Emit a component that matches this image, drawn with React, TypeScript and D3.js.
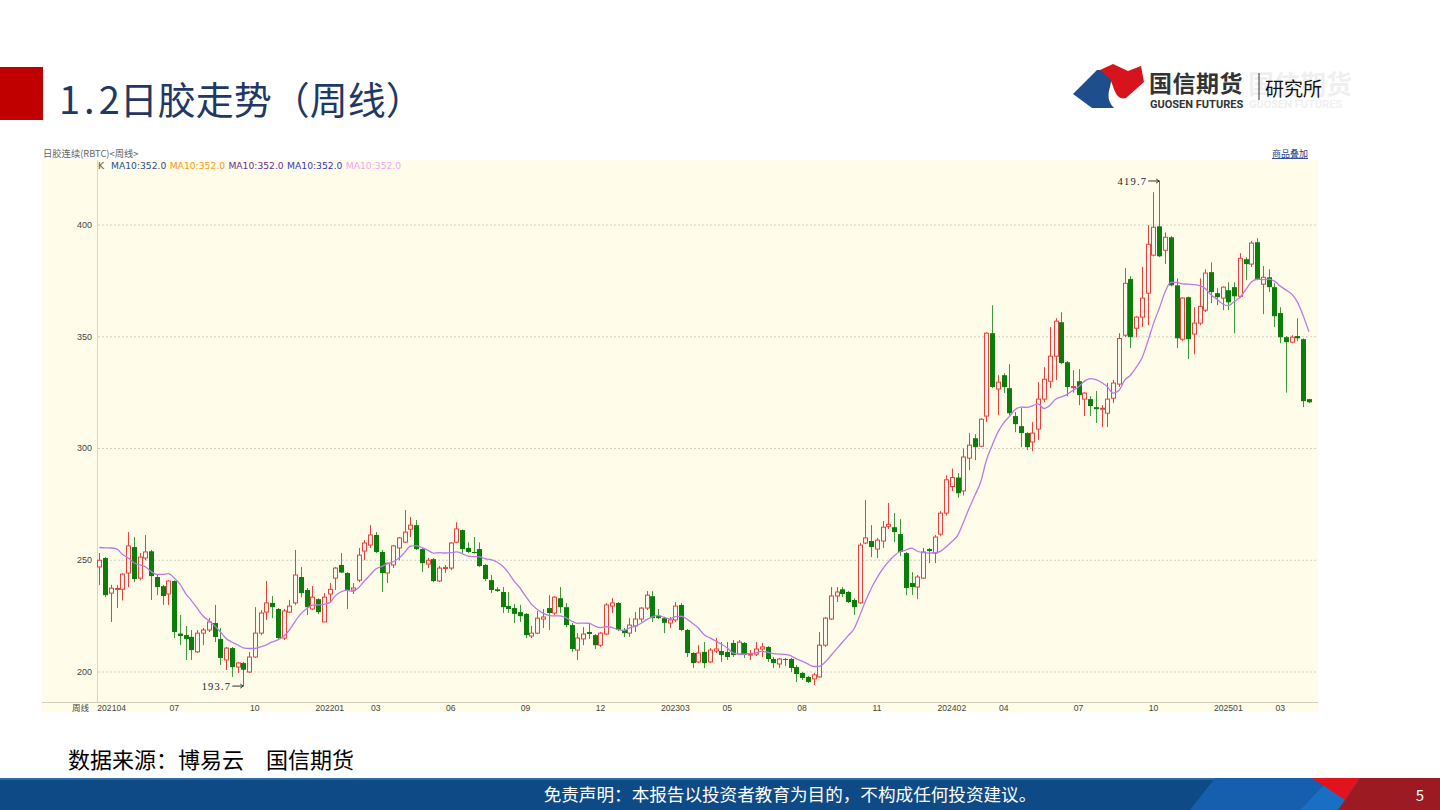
import * as d3 from 'd3';
import React from 'react';

// weekly OHLC, first bar = week of 2021-04-02
const opens = [
  247, 251, 235.3, 237, 237, 244.3, 255.9, 242, 251, 254,
  242.5, 238.4, 234.9, 240.7, 217.2, 216.5, 215.7, 209, 217.4, 218.8,
  221.9, 214.8, 205.4, 210.7, 202.2, 204, 200, 206.7, 217.4, 226.8,
  230.9, 228.2, 215.2, 226.8, 230.9, 242.5, 236.7, 228.2, 232.6, 222.4,
  234.9, 242, 247.9, 244.3, 236.7, 241.1, 254.1, 256.8, 261.3, 253.7,
  244.3, 247.9, 255.5, 258.1, 263.9, 265.7, 255, 248.3, 250.5, 240.7,
  246.3, 246.5, 258.1, 263.5, 255.5, 253.7, 255, 247.9, 241.1, 237,
  235.8, 229.5, 228.6, 226.8, 226, 216.1, 217.4, 223.7, 228.6, 226.4,
  233, 229, 221, 209.8, 214.8, 217.9, 216.5, 212, 217, 229.5,
  230.9, 218.8, 217.4, 220.6, 223.7, 228.6, 233.9, 225, 224.1, 221.9,
  223.3, 230, 218.8, 208.5, 204.5, 209, 204.5, 209.4, 209.4, 209,
  213, 208, 213, 207.6, 208, 210.3, 211.2, 205.8, 203.6, 205.8,
  205.8, 202.2, 199.6, 197.8, 196.9, 197.8, 212, 223.7, 234, 237,
  235.8, 232.2, 230.9, 257.7, 258.6, 255, 258.6, 265.2, 264.8, 261.7,
  253.2, 239.8, 238, 242, 255, 253.2, 261.7, 271.1, 283, 287,
  281, 295.7, 304.6, 301, 314.5, 351.6, 326.6, 332.8, 327, 314.5,
  310, 306.9, 302.9, 308.7, 322.1, 330.1, 341.3, 356.5, 338.6, 327.3,
  330.1, 322.1, 322.1, 318.5, 317.6, 315.8, 322.5, 328.8, 350.7, 375.8,
  353.8, 358.8, 369.5, 386.5, 399.4, 388.7, 394.5, 373, 348.9, 367.7,
  351.2, 356.1, 361.9, 378.9, 369.5, 367.3, 370.8, 372.2, 368.1, 384.7,
  382.5, 392.3, 373.5, 376.6, 372.2, 360.6, 349.8, 347.6, 350.3, 348.9,
  322.1,
];
const highs = [
  253.2, 251.5, 239, 239, 244.3, 262.6, 260.4, 253.2, 261.3, 254.6,
  243.4, 239, 241.1, 241.1, 225.5, 220.6, 218.8, 218.8, 219.7, 224.1,
  230, 219.7, 211.2, 211.2, 204.5, 204.5, 208.9, 229, 227.7, 240.7,
  234, 228.6, 228.2, 232.2, 254.6, 247, 237.6, 238.5, 233, 235.3,
  239.8, 247, 253.2, 244.7, 239.8, 255.5, 259, 265.7, 262.6, 254.6,
  248.9, 256.8, 260.4, 272.5, 269.3, 268, 255.5, 251, 251, 247.4,
  247.9, 258.1, 267, 263.8, 258, 260.4, 258, 248.3, 243.4, 238,
  238, 235.8, 230.4, 230, 226.4, 220.6, 227.3, 228.2, 234.4, 234,
  238, 230.9, 221.9, 217.4, 220.1, 221.9, 217, 217.9, 230.9, 233,
  231.3, 219.7, 224.1, 226.8, 229, 236.2, 236.2, 228.2, 224.6, 224.6,
  231.3, 230.9, 219.2, 208.9, 212, 213.4, 210.7, 215.2, 213.4, 213.4,
  214.3, 214.3, 213.4, 209.8, 213.4, 213, 211.6, 206.7, 206.3, 206.3,
  206.3, 203.1, 200, 198.2, 199.6, 217.9, 224.6, 238, 238, 238,
  236.2, 233, 257.7, 276.9, 265.7, 260, 267.5, 275.6, 271.1, 268.4,
  253.7, 244.7, 243.4, 255.5, 255.5, 261.3, 272, 288, 291, 289,
  300, 306.9, 306.4, 313.6, 352, 364.1, 332.8, 333.7, 337.7, 316.3,
  318.1, 307.3, 311.8, 329.7, 336.4, 354.3, 358.3, 361, 339.1, 335,
  335.5, 325.2, 323.4, 325.7, 319.4, 329.3, 330.6, 351.6, 380.7, 377.1,
  359.2, 381.2, 399.9, 414.7, 419.7, 396.7, 395, 376.1, 367.7, 368,
  363.2, 376.1, 380.2, 383.3, 371.7, 372.5, 374.4, 374.4, 387.4, 385.6,
  392.8, 394.1, 381.6, 380.2, 374, 363.2, 350.3, 350.7, 358.3, 349.3,
  322.1,
];
const lows = [
  238.9, 233.5, 222.4, 228.6, 232, 238, 240.2, 241, 250, 232.2,
  234.4, 230, 230, 215.2, 212, 205.4, 205.4, 208.5, 212, 217.9,
  213.4, 203.1, 200.9, 197.8, 199.6, 193.7, 199.6, 206.3, 216.5, 223.3,
  224.1, 214.8, 214.3, 226.4, 230, 233.5, 225.5, 227.7, 225.9, 222.4,
  230.9, 236.7, 244.3, 228.2, 234.9, 240.2, 250, 255.5, 253.2, 235.8,
  239.8, 246.5, 250, 257.7, 260.4, 254.6, 244.7, 246.5, 240.2, 240.2,
  244.3, 245.6, 257.7, 253.2, 253.2, 253, 247, 240.7, 235.3, 235.8,
  226.4, 226.4, 221.9, 222.4, 215.2, 215.2, 217, 219.7, 218.8, 225.5,
  226.4, 220.1, 209, 205.4, 212, 214.8, 210.3, 211.2, 216.5, 226.4,
  218.3, 215.7, 215.7, 217.9, 222.4, 227.7, 222.4, 223.7, 217.4, 219.7,
  222.4, 218.3, 206.7, 201.8, 204, 201.8, 204, 208.5, 204.5, 205.4,
  206.7, 207.6, 206.3, 205.4, 207.2, 206.7, 204.5, 201.8, 201.8, 202.7,
  200, 195.5, 196.4, 195.1, 194.2, 197.5, 211.2, 223.3, 231.3, 233.5,
  230.9, 225.5, 230.5, 257.2, 251.4, 251, 255.5, 264, 258.1, 251.8,
  234.4, 234.4, 232.6, 241.6, 248.7, 248.7, 260.8, 270, 281, 278,
  279, 290.3, 294.8, 300.6, 311.8, 327, 314.9, 324.8, 314.9, 307.3,
  300.6, 299.3, 298.8, 303.8, 320.7, 327, 330.6, 337.7, 323.4, 325,
  319.4, 314.5, 314.5, 311.4, 309.6, 309.6, 320.3, 327.5, 349.8, 344.9,
  349.8, 354.3, 355.2, 386, 385.6, 382.5, 372.6, 344.9, 348, 340,
  342.2, 355.2, 361, 365, 364.1, 361.9, 361.9, 351.6, 367.3, 375.3,
  381.2, 375.3, 360.1, 370, 354.3, 347.1, 325, 347.1, 348, 318.5,
  320.3,
];
const closes = [
  250, 234.4, 237.5, 237.4, 243.8, 256.4, 241.6, 251.4, 253.7, 242.9,
  238, 234, 240.7, 217.9, 216.1, 214.8, 209.8, 217.4, 218.8, 222.4,
  215.7, 206.3, 210.7, 202.2, 204, 201, 206.7, 217.4, 226.4, 230.9,
  229, 215.2, 227.3, 229.5, 243.4, 235.3, 229, 233.5, 226.8, 233.5,
  237, 246.5, 244.5, 236.7, 237.6, 252.3, 257.7, 261.3, 253.7, 244.3,
  248.7, 256.4, 260, 262.6, 265.7, 255, 248.7, 250, 240.7, 246.5,
  246.8, 257.7, 264, 255, 253.7, 253.2, 247.4, 241.6, 236.7, 236.2,
  229, 228.2, 226, 225, 216.5, 217.4, 224.1, 224.6, 226.4, 233.5,
  229, 221, 210.3, 215.2, 217, 217, 212, 217.4, 230, 230.9,
  218.8, 217.4, 221, 223.7, 228.6, 234.4, 224.1, 224.1, 222, 223.3,
  229.5, 218.8, 208.5, 204, 208.5, 204, 209.8, 210.3, 207.6, 206.7,
  207.6, 213.4, 207.6, 208, 210.3, 211.2, 205.8, 204, 205.8, 205.4,
  201.8, 199.1, 197.3, 195.5, 198.7, 212, 224.1, 234, 235.8, 234.9,
  231.3, 229, 256.8, 260, 255.9, 259, 264.8, 266.1, 262.6, 253.7,
  237.6, 238, 242.5, 253.7, 254.1, 260.4, 271.1, 286, 287, 280,
  296.2, 301.5, 300.6, 313.1, 351.6, 327.5, 329.7, 327.5, 315.8, 310.9,
  306.9, 300.6, 306.9, 322.1, 331, 341.3, 357, 338.2, 327.5, 327.7,
  323.9, 324.8, 319, 317.6, 318, 322.1, 329.3, 349.2, 373.9, 349.8,
  358.8, 367.3, 391.4, 399, 386, 394.5, 373, 349.3, 367.3, 348.9,
  356.1, 363.6, 378.5, 370, 367.7, 372.2, 365.4, 368.1, 385.1, 382.5,
  391.9, 375.8, 376.6, 372.2, 359.2, 349.8, 347.6, 349.8, 349.3, 321.2,
  320.7,
];
// closes of the nine weeks before the first bar (only feed the MA10 line)
const priorCloses = [236, 238, 241, 268, 273, 263, 261, 262, 265];

const yTicks = [200, 250, 300, 350, 400];
// date of the first weekly bar of each labelled month
const xTickDates = [
  '2021-04-02', '2021-07-02', '2021-10-08', '2022-01-07', '2022-03-04', '2022-06-03', '2022-09-02', '2022-12-02',
  '2023-03-03', '2023-05-05', '2023-08-04', '2023-11-03', '2024-02-02', '2024-04-05', '2024-07-05', '2024-10-04',
  '2025-01-03', '2025-03-07',
];
const xTickLabels = [
  '202104', '07', '10', '202201', '03', '06', '09', '12', '202303',
  '05', '08', '11', '202402', '04', '07', '10', '202501', '03',
];
const legendLabels = ['MA10:352.0', 'MA10:352.0', 'MA10:352.0', 'MA10:352.0', 'MA10:352.0'];
const legendColors = ['#2b4f8e', '#f59a23', '#6a2fa0', '#3737c8', '#f0a6ee'];

const firstWeek = new Date(2021, 3, 2);
const cjk = '"Noto Sans CJK SC", "Noto Sans", sans-serif';

const Logo: React.FC = () => (
  <g>
    <path d="M1073,94 L1097,70 L1107,70 C1119,82 1100,93 1114,108 L1092,108 Z" fill="#1f4e8c" />
    <path d="M1100,70 L1113,64 L1128,71 L1141,66 L1144,82 L1126,98 C1115,101 1114,86 1110,79 Z" fill="#d7141d" />
    <g opacity={0.08}>
      <text x={1248} y={94} fontFamily={cjk} fontSize={26} fontWeight={700} fill="#444">国信期货</text>
      <text x={1249} y={107.5} fontFamily="Roboto, sans-serif" fontSize={11} fontWeight={700} fill="#444">GUOSEN FUTURES</text>
    </g>
    <text x={1149} y={92} fontFamily={cjk} fontSize={23} fontWeight={700} fill="#333" letterSpacing={0.5}>国信期货</text>
    <text x={1150} y={107.5} fontFamily="Roboto, sans-serif" fontSize={11} fontWeight={700} fill="#333">GUOSEN FUTURES</text>
    <line x1={1259} y1={73} x2={1259} y2={100} stroke="#333" strokeWidth={1} />
    <text x={1265} y={96} fontFamily={cjk} fontSize={19} fill="#111">研究所</text>
  </g>
);

const App: React.FC = () => {
  const n = closes.length;
  const x = d3.scaleLinear().domain([0, n - 1]).range([99.3, 1309]);
  const y = d3.scaleLinear().domain([200, 400]).range([672, 225]);

  const allCloses = priorCloses.concat(closes);
  const ma = closes.map((_, i) => d3.mean(allCloses.slice(i, i + 10)) as number);
  const maPath = d3
    .line<number>()
    .x((_, i) => x(i))
    .y((d) => y(d))
    .curve(d3.curveMonotoneX)(ma);

  const parse = d3.timeParse('%Y-%m-%d');
  const tickIdx = xTickDates.map((d) => d3.timeDay.count(firstWeek, parse(d) as Date) / 7);

  const lowIdx = d3.minIndex(lows);
  const highIdx = d3.maxIndex(highs);
  const bw = 4;

  return (
    <svg width={1440} height={810} style={{ position: 'absolute', left: 0, top: 0, background: '#fff' }}>
      <rect width={1440} height={810} fill="#fff" />

      {/* title */}
      <rect x={0} y={67} width={43} height={53} fill="#c00000" />
      <text x={59} y={114} fontFamily={cjk} fontSize={38} fill="#1f3864">
        <tspan letterSpacing={4}>1.</tspan>
        <tspan>2日胶走势（周线）</tspan>
      </text>
      <Logo />

      {/* chart panel */}
      <rect x={42} y={147} width={1276} height={566} fill="#fff" />
      <rect x={42} y={160} width={1276} height={552} fill="#fffde9" />
      <text x={43} y={157} fontFamily={cjk} fontSize={9.3} fill="#666">日胶连续(RBTC)&lt;周线&gt;</text>
      <text x={1272} y={157} fontFamily={cjk} fontSize={9} fill="#1d3f8a" textDecoration="underline">商品叠加</text>
      <line x1={97.5} y1={160} x2={97.5} y2={702} stroke="#d8d8c8" />
      <line x1={42} y1={702.5} x2={1318} y2={702.5} stroke="#d0d0c0" />

      {/* legend */}
      <text y={169} fontFamily="'DejaVu Sans', Verdana, sans-serif" fontSize={9.2}>
        <tspan x={98} fill="#555">K</tspan>
        {legendLabels.map((l, i) => (
          <tspan key={i} x={111 + i * 58.7} fill={legendColors[i]}>{l}</tspan>
        ))}
      </text>

      {/* grid + y axis */}
      {yTicks.map((t) => (
        <g key={t}>
          <line x1={98} x2={1316} y1={y(t)} y2={y(t)} stroke="#cfcfc4" strokeDasharray="2,2" />
          <text x={92} y={y(t)} dy="0.32em" textAnchor="end" fontFamily="'Liberation Sans', sans-serif" fontSize={9} fill="#444">
            {t}
          </text>
        </g>
      ))}

      {/* candles */}
      {closes.map((c, i) => {
        const o = opens[i];
        const up = c >= o;
        const cx = Math.round(x(i)) + 0.5;
        const top = y(Math.max(o, c));
        const bot = y(Math.min(o, c));
        const h = Math.max(1, bot - top);
        return (
          <g key={i}>
            <line x1={cx} x2={cx} y1={y(highs[i])} y2={y(lows[i])} stroke={up ? '#e8403a' : '#3c9a3c'} strokeWidth={1} />
            {up ? (
              <rect x={cx - bw / 2} y={top} width={bw} height={h} fill="#fff8ef" stroke="#e8403a" strokeWidth={1} />
            ) : (
              <rect x={cx - bw / 2 - 0.5} y={top} width={bw + 1} height={h} fill="#0a7d0a" />
            )}
          </g>
        );
      })}

      {/* MA10 */}
      <path d={maPath || ''} fill="none" stroke="#bb7ae6" strokeWidth={1.3} />

      {/* extremes */}
      <g fontFamily="'Liberation Serif', serif" fontSize={10.5} fill="#223">
        {[
          { i: lowIdx, v: lows[lowIdx] },
          { i: highIdx, v: highs[highIdx] },
        ].map((m) => (
          <g key={m.i}>
            <text x={x(m.i) - 12} y={y(m.v)} dy="0.35em" textAnchor="end" letterSpacing={1.2}>
              {m.v.toFixed(1)}
            </text>
            <line x1={x(m.i) - 11} x2={x(m.i)} y1={y(m.v)} y2={y(m.v)} stroke="#333" />
            <path d={`M${x(m.i) - 3},${y(m.v) - 2}L${x(m.i)},${y(m.v)}L${x(m.i) - 3},${y(m.v) + 2}`} fill="none" stroke="#333" />
          </g>
        ))}
      </g>

      {/* x axis */}
      <text x={72} y={711} fontFamily={cjk} fontSize={8.5} fill="#444">周线</text>
      {xTickLabels.map((l, i) => (
        <text
          key={i}
          x={i === 0 ? x(tickIdx[i]) - 2 : x(tickIdx[i])}
          y={711}
          textAnchor={i === 0 ? 'start' : 'middle'}
          fontFamily="'Liberation Sans', sans-serif"
          fontSize={8.6}
          fill="#444"
        >
          {l}
        </text>
      ))}

      {/* source */}
      <text x={68} y={768} fontFamily={cjk} fontSize={22} fill="#000">数据来源：博易云　国信期货</text>

      {/* footer */}
      <rect x={0} y={778} width={1440} height={32} fill="#0e4a86" />
      <rect x={0} y={778} width={1440} height={2} fill="#2f6aa8" />
      <polygon points="1190,810 1215,778 1330,778 1300,810" fill="#155fae" />
      <polygon points="1300,810 1330,778 1390,778 1360,810" fill="#1a6fc4" />
      <polygon points="1312,778 1360,778 1345,800" fill="#e1141e" />
      <polygon points="1345,800 1360,778 1440,778 1440,810 1338,810" fill="#9c1b22" />
      <text x={790} y={801} textAnchor="middle" fontFamily={cjk} fontSize={17.6} fill="#fff">
        免责声明：本报告以投资者教育为目的，不构成任何投资建议。
      </text>
      <text x={1420} y={801} textAnchor="middle" fontFamily={cjk} fontSize={15} fill="#fff">5</text>
    </svg>
  );
};

export default App;
